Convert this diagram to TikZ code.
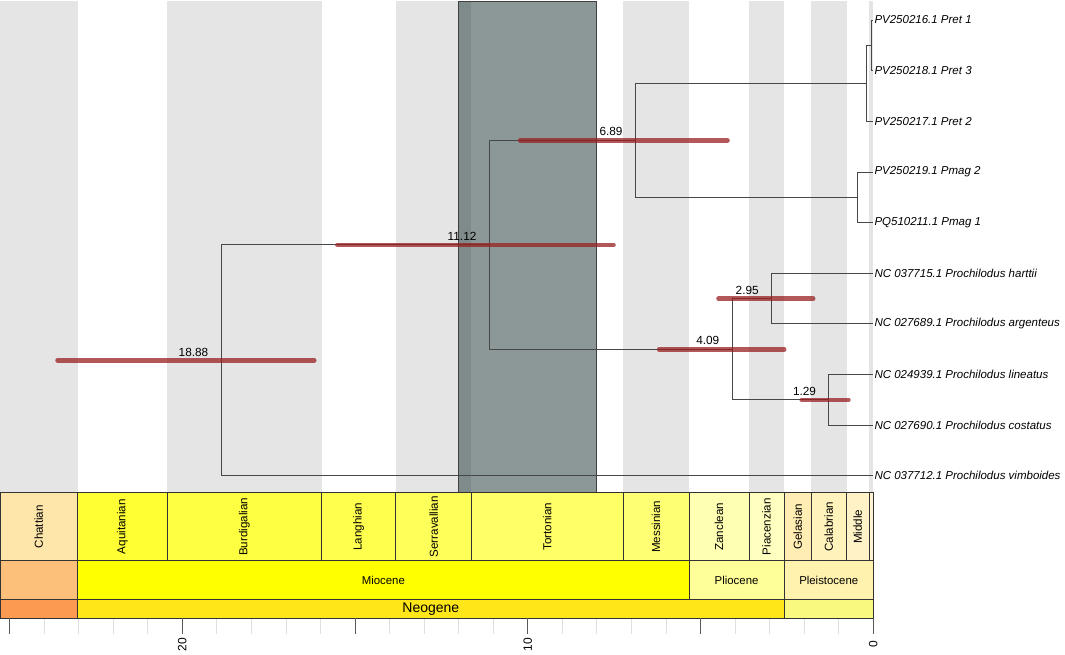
\documentclass[tikz,border=0pt]{standalone}
\usepackage{fontspec}
\setmainfont{Liberation Sans}
\usepackage{tikz}
\usetikzlibrary{positioning}

\definecolor{stripe}{HTML}{E5E5E5}
\definecolor{tortbox}{HTML}{2D4141}
\definecolor{hpdred}{HTML}{982020}
% stages
\definecolor{chattian}{HTML}{FEE6AA}
\definecolor{aquitanian}{HTML}{FFFF33}
\definecolor{burdigalian}{HTML}{FFFF41}
\definecolor{langhian}{HTML}{FFFF4D}
\definecolor{serravallian}{HTML}{FFFF59}
\definecolor{tortonian}{HTML}{FFFF66}
\definecolor{messinian}{HTML}{FFFF73}
\definecolor{zanclean}{HTML}{FFFFB3}
\definecolor{piacenzian}{HTML}{FFFFBF}
\definecolor{gelasian}{HTML}{FFEDB3}
\definecolor{calabrian}{HTML}{FFF2BA}
\definecolor{middlepl}{HTML}{FFF2C7}
\definecolor{upperpl}{HTML}{FFF2D3}
% epochs and periods
\definecolor{oligocene}{HTML}{FDC07A}
\definecolor{miocene}{HTML}{FFFF00}
\definecolor{pliocene}{HTML}{FFFF99}
\definecolor{pleistocene}{HTML}{FFF2AE}
\definecolor{paleogene}{HTML}{FD9A52}
\definecolor{neogene}{HTML}{FFE619}
\definecolor{quaternary}{HTML}{F9F97F}

\begin{document}
\begin{tikzpicture}[x=-34.55pt, y=-1pt,
  edge/.style={draw=black!72, line width=0.9pt},
  hpd/.style={draw=hpdred, line width=4.6pt, line cap=round, draw opacity=0.75},
  tiplab/.style={anchor=west, inner sep=1pt, font=\fontsize{11.5}{13}\selectfont\itshape},
  agelab/.style={inner sep=0pt, font=\fontsize{11.8}{13}\selectfont},
  cell/.style={draw=black!80, line width=0.7pt},
  stagelab/.style={rotate=90, font=\fontsize{11.6}{13}\selectfont},
  epochlab/.style={font=\fontsize{11.4}{13}\selectfont},
  ticklab/.style={rotate=90, font=\fontsize{12}{14}\selectfont}]
\useasboundingbox (25.276,0) rectangle (-5.548,654);

% stage stripes
\foreach \a/\b in {25.276/23.03, 20.44/15.97, 13.82/11.63, 7.246/5.333, 3.6/2.58, 1.8/0.774, 0.129/0}
  \fill[stripe] (\a,1) rectangle (\b,492.7);
% highlighted window
\filldraw[fill=tortbox, fill opacity=0.55, draw=black!75, line width=0.8pt] (12.01,1) rectangle (8.0,492.7);

% tips
\foreach \lab [count=\i] in {PV250216.1 Pret 1, PV250218.1 Pret 3, PV250217.1 Pret 2,
    PV250219.1 Pmag 2, PQ510211.1 Pmag 1, NC 037715.1 Prochilodus harttii,
    NC 027689.1 Prochilodus argenteus, NC 024939.1 Prochilodus lineatus,
    NC 027690.1 Prochilodus costatus, NC 037712.1 Prochilodus vimboides}
  \node[tiplab] (t\i) at (0,{20+50.65*(\i-1)}) {\lab};

% internal nodes (age, y)
\coordinate (pa) at (0.05,45.3);
\coordinate (pb) at (0.19,83.3);
\coordinate (pc) at (0.47,197.3);
\coordinate (n689) at (6.89,140.3);
\coordinate (n295) at (2.95,298.6);
\coordinate (n129) at (1.29,399.9);
\coordinate (n409) at (4.09,349.2);
\coordinate (n1112) at (11.12,244.8);
\coordinate (n1888) at (18.88,360.3);

% branches
\draw[edge] (pa) |- (t1.west);
\draw[edge] (pa) |- (t2.west);
\draw[edge] (pb) |- (pa);
\draw[edge] (pb) |- (t3.west);
\draw[edge] (pc) |- (t4.west);
\draw[edge] (pc) |- (t5.west);
\draw[edge] (n689) |- (pb);
\draw[edge] (n689) |- (pc);
\draw[edge] (n295) |- (t6.west);
\draw[edge] (n295) |- (t7.west);
\draw[edge] (n129) |- (t8.west);
\draw[edge] (n129) |- (t9.west);
\draw[edge] (n409) |- (n295);
\draw[edge] (n409) |- (n129);
\draw[edge] (n1112) |- (n689);
\draw[edge] (n1112) |- (n409);
\draw[edge] (n1888) |- (n1112);
\draw[edge] (n1888) |- (t10.west);

% 95% HPD bars
\draw[hpd] (10.22,0 |- n689) -- (4.22,0 |- n689);
\draw[hpd] (15.51,0 |- n1112) -- (7.52,0 |- n1112);
\draw[hpd] (23.61,0 |- n1888) -- (16.18,0 |- n1888);
\draw[hpd] (4.48,0 |- n295) -- (1.74,0 |- n295);
\draw[hpd] (6.20,0 |- n409) -- (2.58,0 |- n409);
\draw[hpd] (2.07,0 |- n129) -- (0.72,0 |- n129);

% node ages
\node[agelab, above left=4pt and 12.5pt of n689] {6.89};
\node[agelab, above left=4pt and 12.5pt of n1112] {11.12};
\node[agelab, above left=4pt and 12.5pt of n1888] {18.88};
\node[agelab, above left=4pt and 12.5pt of n295] {2.95};
\node[agelab, above left=4pt and 12.5pt of n409] {4.09};
\node[agelab, above left=4pt and 12.5pt of n129] {1.29};

% time scale: stages
\foreach \a/\b/\c/\n in {25.276/23.03/chattian/Chattian, 23.03/20.44/aquitanian/Aquitanian,
    20.44/15.97/burdigalian/Burdigalian, 15.97/13.82/langhian/Langhian,
    13.82/11.63/serravallian/Serravallian, 11.63/7.246/tortonian/Tortonian,
    7.246/5.333/messinian/Messinian, 5.333/3.6/zanclean/Zanclean,
    3.6/2.58/piacenzian/Piacenzian, 2.58/1.8/gelasian/Gelasian,
    1.8/0.774/calabrian/Calabrian, 0.774/0.129/middlepl/Middle, 0.129/0/upperpl/{}}
{
  \filldraw[cell, fill=\c] (\a,492.7) rectangle (\b,560.7);
  \node[stagelab] at ({(\a+\b)/2},526.7) {\n};
}
% epochs
\foreach \a/\b/\c/\n in {25.276/23.03/oligocene/{}, 23.03/5.333/miocene/Miocene,
    5.333/2.58/pliocene/Pliocene, 2.58/0/pleistocene/Pleistocene}
{
  \filldraw[cell, fill=\c] (\a,560.7) rectangle (\b,599.3);
  \node[epochlab] at ({(\a+\b)/2},580) {\n};
}
% periods
\filldraw[cell, fill=paleogene] (25.276,599.3) rectangle (23.03,618.3);
\filldraw[cell, fill=neogene] (23.03,599.3) rectangle (2.58,618.3);
\filldraw[cell, fill=quaternary] (2.58,599.3) rectangle (0,618.3);
\node[font=\fontsize{14}{16}\selectfont] at (12.805,609) {Neogene};

% axis
\foreach \t in {0,...,25}
  \draw[black!12, line width=0.8pt] (\t,619) -- (\t,634);
\foreach \t in {0,5,...,25}
  \draw[black!65, line width=0.9pt] (\t,618.3) -- (\t,634);
\foreach \t in {0,10,20}
  \node[ticklab] at (\t,644.5) {\t};
\end{tikzpicture}
\end{document}
